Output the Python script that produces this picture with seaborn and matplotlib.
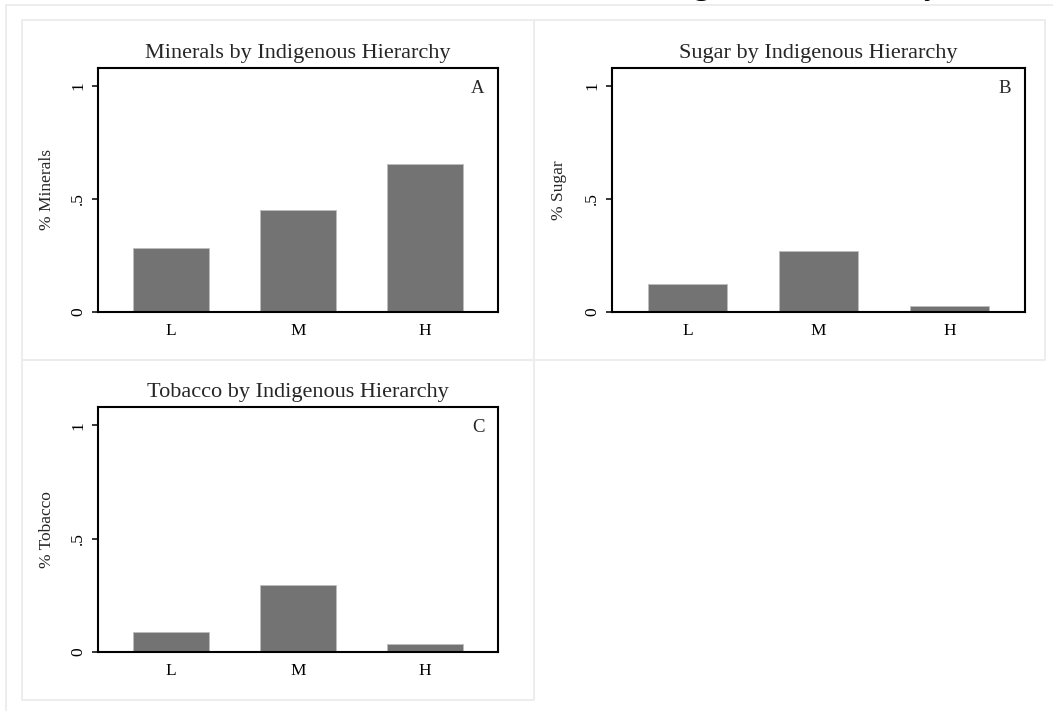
import matplotlib
matplotlib.use("Agg")
import matplotlib.pyplot as plt
from matplotlib.patches import Rectangle
import seaborn as sns
import pandas as pd

# Hierarchy levels (low, medium, high)
levels = ["L", "M", "H"]

# Share of groups involved in each commodity, by indigenous hierarchy
minerals = [0.282, 0.451, 0.656]
sugar = [0.122, 0.271, 0.027]
tobacco = [0.087, 0.296, 0.037]

panel_titles = ["Minerals by Indigenous Hierarchy",
                "Sugar by Indigenous Hierarchy",
                "Tobacco by Indigenous Hierarchy"]
panel_ylabels = ["% Minerals", "% Sugar", "% Tobacco"]
panel_letters = ["A", "B", "C"]
ytick_vals = [0, 0.5, 1]
ytick_text = ["0", ".5", "1"]

sns.set_style("white")
plt.rcParams["font.family"] = ["Liberation Serif", "DejaVu Serif"]

W, H = 1053, 711
fig = plt.figure(figsize=(W / 100, H / 100), dpi=100)
fig.patch.set_facecolor("white")

FRAME = "#ececec"


def px_rect(x0, y0, x1, y1):
    """Convert pixel box (top-left origin) to figure fractions."""
    return [x0 / W, 1 - y1 / H, (x1 - x0) / W, (y1 - y0) / H]


# outer graph region and the three sub-graph regions
outer = Rectangle((6 / W, -0.01), 1.1, 1 - 5 / H + 0.01, transform=fig.transFigure,
                  fill=False, edgecolor=FRAME, linewidth=1.3)
fig.add_artist(outer)
for box in [(22, 20, 534, 360), (534, 20, 1045, 360), (22, 360, 534, 700)]:
    l, b, w, h = px_rect(*box)
    fig.add_artist(Rectangle((l, b), w, h, transform=fig.transFigure, fill=False,
                             edgecolor=FRAME, linewidth=1.3))

# overall heading, sitting above the top edge of the figure
fig.text(940 / W, 1 + 5.5 / H, "Commodities and Indigenous Hierarchy", ha="right",
         va="baseline", fontsize=23.5, fontweight="bold", color="black")

axes_boxes = [(98, 68, 498, 312), (612, 68, 1025, 312), (98, 407, 498, 652)]
series = [minerals, sugar, tobacco]
label_x_px = [55, 567, 55]

for i, (box, vals) in enumerate(zip(axes_boxes, series)):
    ax = fig.add_axes(px_rect(*box))
    df = pd.DataFrame({"level": levels, "share": vals})
    sns.barplot(data=df, x="level", y="share", order=levels, ax=ax,
                color="#737373", saturation=1, width=0.6,
                edgecolor="#bdbdbd", linewidth=0.6)
    ax.set_xlim(-0.575, 2.575)
    ax.set_ylim(0, 1.08)
    ax.set_yticks(ytick_vals)
    ax.set_yticklabels(ytick_text, rotation=90, va="center", fontsize=12.5)
    ax.tick_params(axis="y", direction="out", length=4.5, width=1.1, pad=4,
                   left=True, colors="black")
    ax.tick_params(axis="x", length=0, pad=8, labelsize=12.5, colors="black")
    for sp in ax.spines.values():
        sp.set_visible(True)
        sp.set_color("black")
        sp.set_linewidth(1.5)
    ax.set_xlabel("")
    ax.set_ylabel(panel_ylabels[i], fontsize=12.5)
    ax.yaxis.set_label_coords((label_x_px[i] - box[0]) / (box[2] - box[0]), 0.5)
    ax.set_title(panel_titles[i], fontsize=16, pad=7)
    ax.text(0.95, 0.918, panel_letters[i], transform=ax.transAxes,
            ha="center", va="center", fontsize=13.5)
    ax.set_facecolor("white")

fig.savefig("out.png", dpi=100, facecolor="white")
